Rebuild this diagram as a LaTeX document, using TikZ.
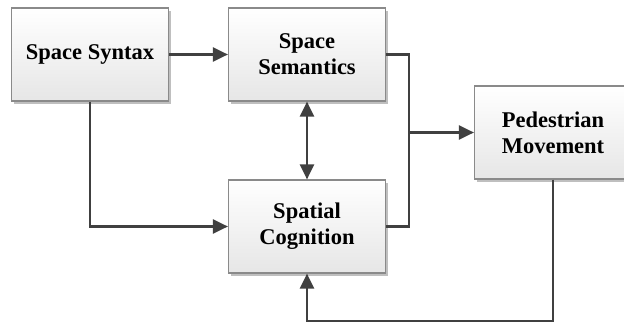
\documentclass[tikz,border=0pt]{standalone}
\usepackage{fontspec}
\setmainfont{Liberation Serif}
\usetikzlibrary{arrows.meta,shadows,calc}
\definecolor{linegray}{HTML}{404040}
\definecolor{edgegray}{HTML}{8A8A8A}
\definecolor{boxbottom}{HTML}{E6E6E6}
\tikzset{
  block/.style={draw=edgegray, line width=1.2pt, top color=white, bottom color=boxbottom,
    minimum width=157pt, minimum height=93pt, align=center, inner sep=0pt,
    font=\fontsize{22.5}{26}\selectfont\bfseries,
    drop shadow={shadow xshift=2.5pt, shadow yshift=-2.5pt, opacity=0.25, fill=black}},
  link/.style={draw=linegray, line width=2.3pt},
  tip/.style={-{Triangle[length=15pt,width=14pt]}},
  bothtips/.style={{Triangle[length=15pt,width=14pt]}-{Triangle[length=15pt,width=14pt]}}
}
\begin{document}
\begin{tikzpicture}[x=1pt,y=-1pt]
  \useasboundingbox (0,0) rectangle (624,324);
  \clip (0,0) rectangle (624,324);
  \node[block] (syn) at (90,54.5) {Space Syntax};
  \node[block] (sem) at (307,54.5) {Space\\Semantics};
  \node[block] (cog) at (307,226.5) {Spatial\\Cognition};
  \node[block] (ped) at (553,132.5) {Pedestrian\\Movement};
  \coordinate (j) at (409,132.5);
  \coordinate (fb) at (553,321);
  % forward connections
  \draw[link,tip] (syn.east) -- (sem.west);
  \draw[link,tip] (syn.south) |- (cog.west);
  \draw[link,bothtips] (sem.south) -- (cog.north);
  % merge of semantics and cognition into movement
  \draw[link] (sem.east) -| (j) |- (cog.east);
  \draw[link,tip] (j) -- (ped.west);
  % feedback loop
  \draw[link,tip] (ped.south) -- (fb) -| (cog.south);
\end{tikzpicture}
\end{document}
